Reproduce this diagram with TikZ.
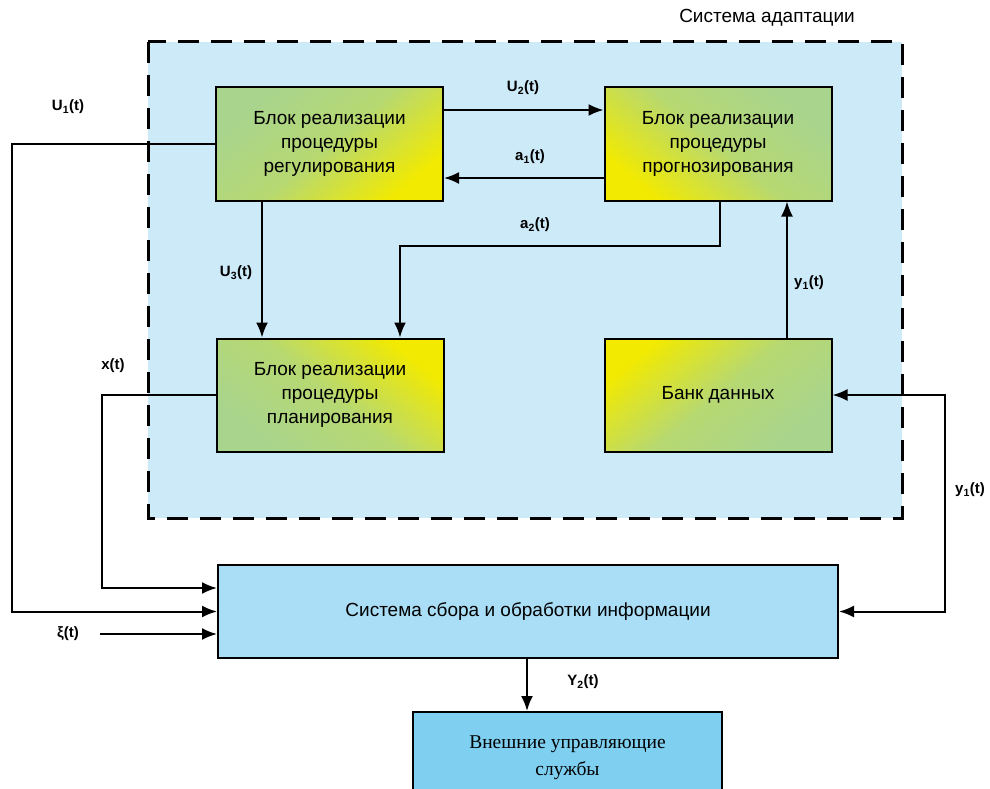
\documentclass[tikz,border=0pt]{standalone}
\usepackage{fontspec}
\setmainfont{Liberation Sans}
\newfontfamily\serifru{Liberation Serif}
\usetikzlibrary{arrows.meta,calc}
\definecolor{regbg}{HTML}{CDEAF8}
\definecolor{boxgreen}{HTML}{A8D48E}
\definecolor{boxyellow}{HTML}{F2EA00}
\definecolor{infobox}{HTML}{A9DEF6}
\definecolor{extbox}{HTML}{7FCFF1}
\tikzset{
  blk/.style={draw=black, line width=2pt, minimum width=227pt, minimum height=113pt,
    align=center, font=\fontsize{19}{24}\selectfont, inner sep=0pt},
  gTL/.style={blk, top color=boxgreen, bottom color=boxyellow, middle color=boxgreen!80!boxyellow, shading angle=40},
  gTR/.style={blk, top color=boxgreen, bottom color=boxyellow, middle color=boxgreen!80!boxyellow, shading angle=-40},
  yTR/.style={blk, top color=boxyellow, bottom color=boxgreen, middle color=boxgreen!80!boxyellow, shading angle=-40},
  yTL/.style={blk, top color=boxyellow, bottom color=boxgreen, middle color=boxgreen!80!boxyellow, shading angle=40},
  arr/.style={line width=2pt, -{Latex[length=15pt,width=12pt]}},
  lbl/.style={font=\bfseries\fontsize{15}{17}\selectfont, inner sep=1pt},
}
\begin{document}
\begin{tikzpicture}[x=1pt,y=-1pt]
\useasboundingbox (0,0) rectangle (990,789);
\fill[white] (0,0) rectangle (990,789);
% adaptation region
\fill[regbg] (148,42) rectangle (902,518);
\draw[line width=3pt, dash pattern=on 21pt off 12pt] (148,42) rectangle (902,518);
\node[font=\fontsize{19}{22}\selectfont] (title) at (767,18) {Система адаптации};
% blocks
\node[gTL] (b1) at (329.5,144) {Блок реализации\\процедуры\\регулирования};
\node[gTR] (b2) at (718,144) {Блок реализации\\процедуры\\прогнозирования};
\node[yTR] (b3) at (330,395) {Блок реализации\\процедуры\\планирования};
\node[yTL] (b4) at (718,395) {Банк данных};
\node[draw=black, line width=2pt, fill=infobox, minimum width=620pt, minimum height=93pt,
  font=\fontsize{19}{22}\selectfont] (info) at (528,611.5) {Система сбора и обработки информации};
\node[draw=black, line width=2pt, fill=extbox, minimum width=309pt, minimum height=92pt,
  align=center, font=\serifru\fontsize{19.5}{27}\selectfont, anchor=north, inner sep=0pt] (ext) at (567.5,711)
  {Внешние управляющие\\службы};
% helper coordinates
\coordinate (hU2) at (0,110);
\coordinate (ha1) at (0,178);
\coordinate (xU3) at (262,0);
\coordinate (xa2) at (720,0);
\coordinate (xa2b) at (400,0);
\coordinate (xy1) at (787,0);
\coordinate (ca2a) at (720,246);
\coordinate (ca2b) at (400,246);
\coordinate (cU1a) at (12,144);
\coordinate (cU1b) at (12,611.5);
\coordinate (cxa) at (102,395);
\coordinate (cxb) at (102,588);
\coordinate (cxi) at (100,634);
\coordinate (cya) at (945,395);
\coordinate (cyb) at (945,611.5);
\coordinate (xY2) at (527,0);
% connectors
\draw[arr] (b1.east |- hU2) -- (b2.west |- hU2);
\draw[arr] (b2.west |- ha1) -- (b1.east |- ha1);
\draw[arr] (b1.south -| xU3) -- (b3.north -| xU3);
\draw[arr] (b2.south -| xa2) -- (ca2a) -- (ca2b) -- (b3.north -| xa2b);
\draw[arr] (b4.north -| xy1) -- (b2.south -| xy1);
\draw[arr] (b1.west) -- (cU1a) -- (cU1b) -- (info.west |- cU1b);
\draw[arr] (b3.west) -- (cxa) -- (cxb) -- (info.west |- cxb);
\draw[arr] (cxi) -- (info.west |- cxi);
\draw[line width=2pt, {Latex[length=15pt,width=12pt]}-{Latex[length=15pt,width=12pt]}] (b4.east) -- (cya) -- (cyb) -- (info.east);
\draw[arr] (info.south -| xY2) -- (ext.north -| xY2);
% labels
\node[lbl] (lU1) at (68,107) {U\textsubscript{1}(t)};
\node[lbl] (lU2) at (523,88) {U\textsubscript{2}(t)};
\node[lbl] (la1) at (530,157) {a\textsubscript{1}(t)};
\node[lbl] (la2) at (535,225) {a\textsubscript{2}(t)};
\node[lbl] (lU3) at (236,273) {U\textsubscript{3}(t)};
\node[lbl] (ly1) at (809,283) {y\textsubscript{1}(t)};
\node[lbl] (lx) at (113,366) {x(t)};
\node[lbl] (lxi) at (68,634) {ξ(t)};
\node[lbl] (ly1b) at (970,490) {y\textsubscript{1}(t)};
\node[lbl] (lY2) at (583,682) {Y\textsubscript{2}(t)};
\end{tikzpicture}
\end{document}
